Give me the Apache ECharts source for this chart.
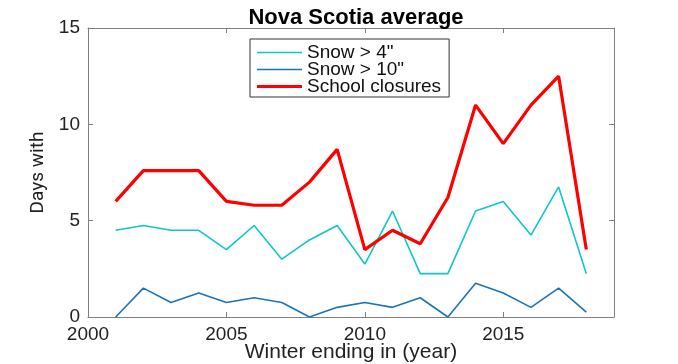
<!DOCTYPE html>
<html>
<head>
<meta charset="utf-8">
<script src="https://cdn.jsdelivr.net/npm/echarts@6/dist/echarts.min.js"></script>
<style>html,body{margin:0;padding:0;background:#fff}#c{width:678px;height:364px}</style>
</head>
<body>
<div id="c"></div>
<script>
const years = [2001,2002,2003,2004,2005,2006,2007,2008,2009,2010,2011,2012,2013,2014,2015,2016,2017,2018];
const snow4 = [4.5,4.75,4.5,4.5,3.5,4.75,3.0,4.0,4.75,2.75,5.5,2.25,2.25,5.5,6.0,4.25,6.75,2.25];
const snow10 = [0,1.5,0.75,1.25,0.75,1.0,0.75,0,0.5,0.75,0.5,1.0,0,1.75,1.25,0.5,1.5,0.25];
const closures = [6.0,7.6,7.6,7.6,6.0,5.8,5.8,7.0,8.7,3.5,4.5,3.8,6.2,11.0,9.0,11.0,12.5,3.5];
const seriesNames = ['Snow > 4"','Snow > 10"','School closures'];
const xTicks = [2000,2005,2010,2015];
const yTicks = [0,5,10,15];

const pair = arr => years.map((y,i)=>[y,arr[i]]);
const font = '"Liberation Sans", Arial, Helvetica, sans-serif';
const axisCol = '#7f7f7f';
const cCyan = '#10c6c6', cBlue = '#1a75b8', cRed = '#ff0000';
const chart = echarts.init(document.getElementById('c'), null, {renderer:'canvas'});
const xBase = {type:'value', min:2000, max:2019, interval:5,
  axisLine:{show:true, onZero:false, lineStyle:{color:axisCol,width:1}},
  axisTick:{show:true, inside:true, length:5, lineStyle:{color:axisCol}},
  splitLine:{show:false}};
const yBase = {type:'value', min:0, max:15, interval:5,
  axisLine:{show:true, onZero:false, lineStyle:{color:axisCol,width:1}},
  axisTick:{show:true, inside:true, length:5, lineStyle:{color:axisCol}},
  splitLine:{show:false}};
const thin = 'path://M0,0h60v2h-60z';
const thick = 'path://M0,0h60v4h-60z';
chart.setOption({
  animation:false,
  backgroundColor:'#fff',
  title:{text:'Nova Scotia average', left:351, top:2, textAlign:'center',
    textStyle:{fontFamily:font, fontWeight:'bold', fontSize:22, color:'#000'}},
  grid:{left:88, right:64, top:28, bottom:47, containLabel:false, outerBoundsMode:'none'},
  legend:{orient:'vertical', left:250, top:39,
    data:[{name:seriesNames[0], icon:thin},{name:seriesNames[1], icon:thin},{name:seriesNames[2], icon:thick}],
    itemWidth:45, itemHeight:14, itemGap:-2, symbolKeepAspect:true,
    padding:[4,8,1,7], borderColor:'#333', borderWidth:1, backgroundColor:'#fff',
    textStyle:{fontFamily:font, fontSize:19, lineHeight:14, color:'#111'}},
  xAxis:[
    Object.assign({}, xBase, {position:'bottom',
      name:'Winter ending in (year)', nameLocation:'middle', nameGap:25, nameMoveOverlap:false,
      nameTextStyle:{fontFamily:font, fontSize:21, color:'#222'},
      axisLabel:{show:true, showMaxLabel:false, margin:8,
        fontFamily:font, fontSize:19, color:'#222',
        formatter:v=>xTicks.includes(v)?String(v):''}}),
    Object.assign({}, xBase, {position:'top', axisLabel:{show:false}})
  ],
  yAxis:[
    Object.assign({}, yBase, {position:'left',
      name:'Days with', nameLocation:'middle', nameGap:39,
      nameTextStyle:{fontFamily:'Roboto, sans-serif', fontSize:19, color:'#222'},
      axisLabel:{show:true, margin:8, fontFamily:font, fontSize:19, color:'#222',
        formatter:v=>yTicks.includes(v)?String(v):''}}),
    Object.assign({}, yBase, {position:'right', axisLabel:{show:false}})
  ],
  series:[
    {name:seriesNames[0], type:'line', data:pair(snow4), symbol:'none',
      lineStyle:{color:cCyan, width:1.6}, itemStyle:{color:cCyan}, z:3},
    {name:seriesNames[1], type:'line', data:pair(snow10), symbol:'none',
      lineStyle:{color:cBlue, width:1.6}, itemStyle:{color:cBlue}, z:3},
    {name:seriesNames[2], type:'line', data:pair(closures), symbol:'none',
      lineStyle:{color:cRed, width:3.2}, itemStyle:{color:cRed}, z:4}
  ]
});
</script>
</body>
</html>
